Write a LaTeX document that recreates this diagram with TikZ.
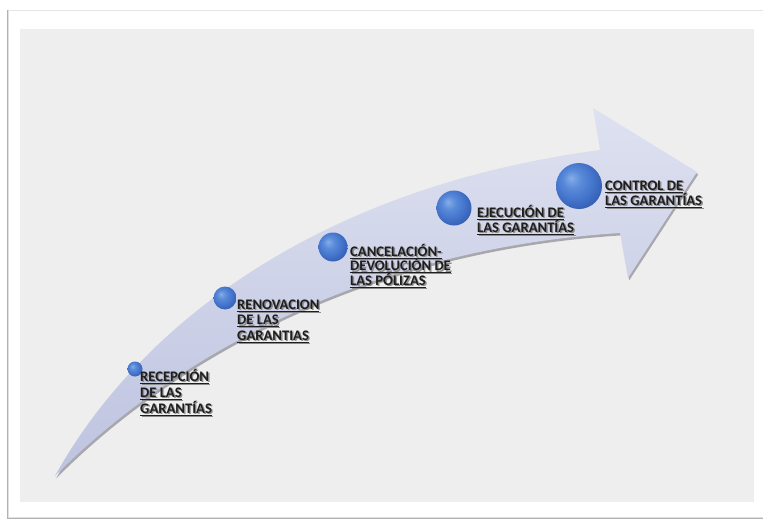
\documentclass[tikz,border=0pt]{standalone}
\usepackage{fontspec}
\setmainfont{Carlito}
\definecolor{bggrey}{RGB}{238,238,238}
\definecolor{arrowtop}{RGB}{222,225,240}
\definecolor{arrowbot}{RGB}{190,195,224}
\definecolor{arrowshadow}{RGB}{110,110,120}
\definecolor{txt}{RGB}{30,30,30}
\definecolor{txtshadow}{RGB}{140,140,140}
\pgfdeclareradialshading{bluedisc}{\pgfpoint{-9bp}{9bp}}{%
  rgb(0bp)=(0.52,0.68,0.91);
  rgb(10bp)=(0.35,0.54,0.85);
  rgb(20bp)=(0.27,0.46,0.80);
  rgb(32bp)=(0.19,0.35,0.68);
  rgb(50bp)=(0.12,0.25,0.52)}
\tikzset{
  lbl/.style={anchor=north west, inner sep=0pt, align=left, text=txt},
  ballst/.style={circle, inner sep=0pt, shading=bluedisc},
}
\newcommand\steplabel[5]{%
  \node[lbl, text=txtshadow, font=\fontsize{14.6}{#4}\selectfont\bfseries] (#1s) at (#2+1.4,#3-13+1.4) {#5};
  \node[lbl, font=\fontsize{14.6}{#4}\selectfont\bfseries] (#1) at (#2,#3-13) {#5};
}
\begin{document}
\begin{tikzpicture}[x=1pt,y=-1pt]
\useasboundingbox (0,0) rectangle (763,519);
% frame
\fill[white] (0,0) rectangle (763,519);
\fill[black!30] (6.5,10) rectangle (763,519);
\fill[black!12] (7.5,10) rectangle (763,518);
\fill[white] (9,10.5) rectangle (763,516.5);
\draw[black!10, line width=0.8pt] (9,10.5) -- (763,10.5);
\fill[bggrey] (20,29) rectangle (754,502);
% arrow shadow
\fill[arrowshadow, opacity=0.55] ([shift={(1.2,2.4)}]55,476) .. controls ([shift={(1.2,2.4)}]130,340) and ([shift={(1.2,2.4)}]300,190) .. ([shift={(1.2,2.4)}]600,150)
  -- ([shift={(1.2,2.4)}]593,108) -- ([shift={(1.2,2.4)}]697,172) -- ([shift={(1.2,2.4)}]628,278) -- ([shift={(1.2,2.4)}]620,233)
  .. controls ([shift={(1.2,2.4)}]350,250) and ([shift={(1.2,2.4)}]160,370) .. ([shift={(1.2,2.4)}]55,476) -- cycle;
% arrow
\shade[top color=arrowtop, bottom color=arrowbot] (55,476) .. controls (130,340) and (300,190) .. (600,150)
  -- (593,108) -- (697,172) -- (628,278) -- (620,233)
  .. controls (350,250) and (160,370) .. (55,476) -- cycle;
% balls
\node[ballst, minimum size=15] (b1) at (135,369) {};
\node[ballst, minimum size=23] (b2) at (225,298) {};
\node[ballst, minimum size=29] (b3) at (333,247) {};
\node[ballst, minimum size=35] (b4) at (454,208) {};
\node[ballst, minimum size=46] (b5) at (579,186) {};
% labels
\steplabel{t1}{140}{381}{16}{\rule{0pt}{13pt}\underline{RECEPCIÓN}\\\underline{DE LAS}\\\underline{GARANTÍAS}}
\steplabel{t2}{237}{309}{15.5}{\rule{0pt}{13pt}\underline{RENOVACION}\\\underline{DE LAS}\\\underline{GARANTIAS}}
\steplabel{t3}{350}{256}{14.5}{\rule{0pt}{13pt}\underline{CANCELACIÓN-}\\\underline{DEVOLUCIÓN DE}\\\underline{LAS PÓLIZAS}}
\steplabel{t4}{477}{217}{13.5}{\rule{0pt}{13pt}\underline{EJECUCIÓN DE}\\\underline{LAS GARANTÍAS}}
\steplabel{t5}{605}{190}{15}{\rule{0pt}{13pt}\underline{CONTROL DE}\\\underline{LAS GARANTÍAS}}
\end{tikzpicture}
\end{document}
